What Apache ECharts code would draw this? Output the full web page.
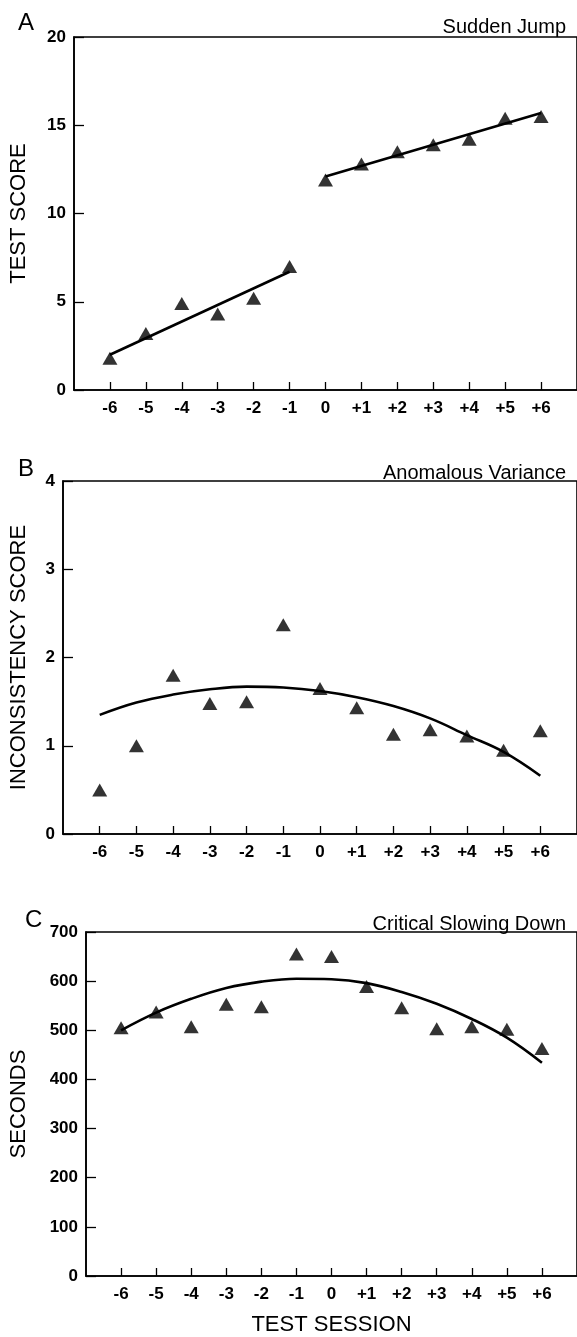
<!DOCTYPE html>
<html>
<head>
<meta charset="utf-8">
<script src="https://cdn.jsdelivr.net/npm/echarts@6/dist/echarts.min.js"></script>
<style>
html,body{margin:0;padding:0;background:#fff;}
#c{width:577px;height:1337px;}
</style>
</head>
<body>
<div id="c"></div>
<script>
// Test sessions
const sessions = [-6, -5, -4, -3, -2, -1, 0, 1, 2, 3, 4, 5, 6];

// Panel A: Sudden Jump (test score)
const scoreA = [1.8, 3.2, 4.9, 4.3, 5.2, 7.0, 11.9, 12.8, 13.5, 13.9, 14.2, 15.4, 15.5];
const fitA1 = [[-6, 2.0], [-1, 6.7]];
const fitA2 = [[0, 12.1], [6, 15.7]];

// Panel B: Anomalous Variance (inconsistency score)
const scoreB = [0.5, 1.0, 1.8, 1.48, 1.5, 2.37, 1.65, 1.43, 1.13, 1.18, 1.11, 0.95, 1.17];
const fitB = [1.35, 1.49, 1.58, 1.64, 1.67, 1.66, 1.62, 1.55, 1.45, 1.31, 1.12, 0.93, 0.66];

// Panel C: Critical Slowing Down (seconds)
const scoreC = [505, 537, 507, 553, 548, 655, 650, 589, 546, 503, 507, 502, 463];
const fitC = [500, 536, 564, 586, 599, 605, 604, 596, 578, 554, 523, 485, 434];

const panelLetters = ['A', 'B', 'C'];
const panelTitles = ['Sudden Jump', 'Anomalous Variance', 'Critical Slowing Down'];
const yNames = ['TEST SCORE', 'INCONSISTENCY SCORE', 'SECONDS'];
const yMax = [20, 4, 700];
const yInterval = [5, 1, 100];
const xName = 'TEST SESSION';

const FONT = '"Liberation Sans", Arial, Helvetica, sans-serif';

const grids = [
  {left: 71, right: -2, top: 37, height: 353},
  {left: 60, right: -3, top: 481, height: 353},
  {left: 83, right: -2, top: 932, height: 346}
];

const chart = echarts.init(document.getElementById('c'), null, {renderer: 'canvas'});

const xAxes = grids.map((g, i) => ({
  type: 'value', gridIndex: i, min: -7, max: 7, interval: 1,
  name: i === 2 ? xName : '', nameLocation: 'middle', nameGap: 38,
  nameTextStyle: {fontFamily: FONT, fontSize: 22, color: '#000'},
  axisLine: {show: true, onZero: false, lineStyle: {color: '#000', width: 1.6}},
  axisTick: {show: true, inside: true, length: 8, lineStyle: {color: '#000', width: 1.3}},
  axisLabel: {
    show: true, margin: 10, color: '#000', fontFamily: FONT, fontSize: 17, fontWeight: 'bold',
    showMinLabel: false, showMaxLabel: false,
    formatter: v => (Math.abs(v) === 7 ? '' : (v > 0 ? '+' + v : String(v)))
  },
  splitLine: {show: false}
}));

const yAxes = grids.map((g, i) => ({
  type: 'value', gridIndex: i, min: 0, max: yMax[i], interval: yInterval[i],
  name: yNames[i], nameLocation: 'middle', nameRotate: 90,
  nameGap: [44, 33, 56][i],
  nameTextStyle: {fontFamily: FONT, fontSize: 22, color: '#000'},
  axisLine: {show: true, onZero: false, lineStyle: {color: '#000', width: 1.6}},
  axisTick: {show: true, inside: true, length: 10, lineStyle: {color: '#000', width: 1.3}},
  axisLabel: {margin: 8, color: '#000', fontFamily: FONT, fontSize: 17, fontWeight: 'bold'},
  splitLine: {show: false}
}));

const titles = [];
const titleTops = [6, 452, 903];
panelLetters.forEach((l, i) => {
  titles.push({text: l, left: [13, 13, 20][i], top: titleTops[i],
    textStyle: {fontFamily: FONT, fontSize: 24, fontWeight: 'normal', color: '#000'}});
  titles.push({text: panelTitles[i], right: 6, top: titleTops[i] + 6,
    textStyle: {fontFamily: FONT, fontSize: 20, fontWeight: 'normal', color: '#000'}});
});

const tri = {type: 'scatter', symbol: 'triangle', symbolSize: [15, 13],
  itemStyle: {color: '#000'}, z: 3};
const lineBase = {type: 'line', symbol: 'none', lineStyle: {color: '#000', width: 2.6}, z: 2};

const pair = (xs, ys) => xs.map((x, k) => [x, ys[k]]);

const series = [
  Object.assign({}, tri, {xAxisIndex: 0, yAxisIndex: 0, data: pair(sessions, scoreA)}),
  Object.assign({}, lineBase, {xAxisIndex: 0, yAxisIndex: 0, data: fitA1}),
  Object.assign({}, lineBase, {xAxisIndex: 0, yAxisIndex: 0, data: fitA2}),
  Object.assign({}, tri, {xAxisIndex: 1, yAxisIndex: 1, data: pair(sessions, scoreB)}),
  Object.assign({}, lineBase, {xAxisIndex: 1, yAxisIndex: 1, smooth: 0.4, data: pair(sessions, fitB)}),
  Object.assign({}, tri, {xAxisIndex: 2, yAxisIndex: 2, data: pair(sessions, scoreC)}),
  Object.assign({}, lineBase, {xAxisIndex: 2, yAxisIndex: 2, smooth: 0.4, data: pair(sessions, fitC)})
];

chart.setOption({
  animation: false,
  backgroundColor: '#fff',
  title: titles,
  grid: grids.map(g => Object.assign({show: true, borderColor: '#000', borderWidth: 1.6, backgroundColor: 'transparent'}, g)),
  xAxis: xAxes,
  yAxis: yAxes,
  series: series
});
</script>
</body>
</html>
